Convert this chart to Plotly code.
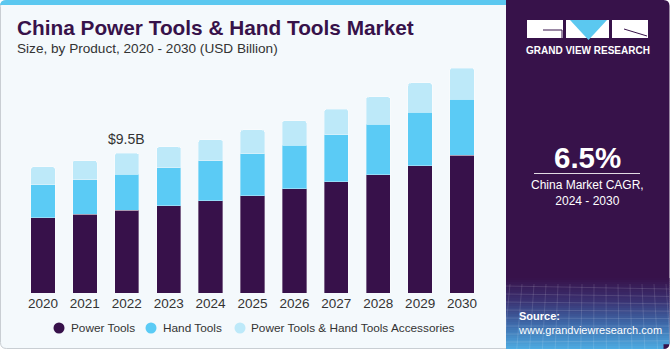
import plotly.graph_objects as go

years = ["2020", "2021", "2022", "2023", "2024", "2025", "2026", "2027", "2028", "2029", "2030"]
power_tools = [5.11, 5.36, 5.63, 5.92, 6.26, 6.62, 7.10, 7.55, 8.05, 8.64, 9.36]
hand_tools = [2.24, 2.35, 2.44, 2.58, 2.71, 2.85, 2.94, 3.21, 3.42, 3.64, 3.82]
accessories = [1.22, 1.29, 1.43, 1.42, 1.45, 1.61, 1.67, 1.72, 1.85, 1.99, 2.10]
series_names = ["Power Tools", "Hand Tools", "Power Tools & Hand Tools Accessories"]
colors = ["#37114A", "#5BCBF5", "#BDE9F9"]
label_year = "2022"
label_text = "$9.5B"

W, H = 670, 350
L, R, T, B = 22, 187, 60, 57
PW = W - L - R
PH = H - T - B
YMAX = 15.83
FONT = "Liberation Sans, Arial"

xpos = list(range(len(years)))


def px(x):
    return (x - L) / PW


def py(y):
    return (H - B - y) / PH


fig = go.Figure()
for name, vals, col in zip(series_names, [power_tools, hand_tools, accessories], colors):
    fig.add_trace(go.Bar(
        x=xpos, y=vals, name=name, marker_color=col,
        marker_line=dict(color="rgba(255,255,255,0.35)", width=1),
        showlegend=False, customdata=years, hovertemplate="%{customdata}: %{y}<extra>" + name + "</extra>",
    ))

shapes = []
annotations = []

# left panel background
r = 6
x0, x1, y0, y1 = 0.5, 508, 0.5, 348.5
path = (f"M {px(x0 + r)},{py(y0)} L {px(x1)},{py(y0)} L {px(x1)},{py(y1)} "
        f"L {px(x0 + r)},{py(y1)} Q {px(x0)},{py(y1)} {px(x0)},{py(y1 - r)} "
        f"L {px(x0)},{py(y0 + r)} Q {px(x0)},{py(y0)} {px(x0 + r)},{py(y0)} Z")
shapes.append(dict(type="path", xref="paper", yref="paper", path=path,
                   fillcolor="#F4F9FC", line=dict(color="#C9CED3", width=1), layer="below"))
# top stripe
path = (f"M {px(r)},{py(0)} L {px(507)},{py(0)} L {px(507)},{py(5)} L {px(0)},{py(5)} "
        f"L {px(0)},{py(r)} Q {px(0)},{py(0)} {px(r)},{py(0)} Z")
shapes.append(dict(type="path", xref="paper", yref="paper", path=path,
                   fillcolor="#5BC8F0", line=dict(width=0), layer="below"))

# right panel
rx0, rx1, ry0, ry1 = 506, 669.5, 0, 349
path = (f"M {px(rx0)},{py(ry0)} L {px(rx1 - r)},{py(ry0)} Q {px(rx1)},{py(ry0)} {px(rx1)},{py(ry0 + r)} "
        f"L {px(rx1)},{py(ry1 - r)} Q {px(rx1)},{py(ry1)} {px(rx1 - r)},{py(ry1)} "
        f"L {px(rx0)},{py(ry1)} Z")
shapes.append(dict(type="path", xref="paper", yref="paper", path=path,
                   fillcolor="#37124A", line=dict(width=0), layer="below"))

# gradient at bottom of right panel
stops = [(278, (55, 18, 74)), (300, (58, 48, 112)), (325, (62, 108, 172)), (349, (78, 172, 226))]


def col_at(y):
    for (ya, ca), (yb, cb) in zip(stops[:-1], stops[1:]):
        if ya <= y <= yb:
            t = (y - ya) / (yb - ya)
            return "rgb(%d,%d,%d)" % tuple(round(a + (b - a) * t) for a, b in zip(ca, cb))
    return "rgb(%d,%d,%d)" % stops[-1][1]


yy = 278
while yy < 349:
    shapes.append(dict(type="rect", xref="paper", yref="paper",
                       x0=px(rx0), x1=px(rx1 - (r if yy > 343 else 0)), y0=py(yy), y1=py(min(yy + 2.2, 349)),
                       fillcolor=col_at(yy + 1), line=dict(width=0), layer="below"))
    yy += 2
# faint mesh lines
for i in range(8):
    yl = 286 + i * 8
    shapes.append(dict(type="line", xref="paper", yref="paper", x0=px(rx0), x1=px(rx1),
                       y0=py(yl), y1=py(yl + 3 - i * 0.6),
                       line=dict(color="rgba(255,255,255,0.13)", width=1), layer="below"))
for i in range(14):
    xl = 510 + i * 12
    shapes.append(dict(type="line", xref="paper", yref="paper", x0=px(xl), x1=px(xl - 6 + i * 0.8),
                       y0=py(284), y1=py(349),
                       line=dict(color="rgba(255,255,255,0.12)", width=1), layer="below"))

# logo
for a, b in [(527, 563), (566, 609), (612, 648)]:
    shapes.append(dict(type="rect", xref="paper", yref="paper", x0=px(a), x1=px(b), y0=py(20), y1=py(38),
                       fillcolor="white", line=dict(width=0)))
shapes.append(dict(type="path", xref="paper", yref="paper",
                   path=f"M {px(570)},{py(20)} L {px(607)},{py(20)} L {px(588.5)},{py(40)} Z",
                   fillcolor="#5BC8F0", line=dict(width=0)))
shapes.append(dict(type="path", xref="paper", yref="paper",
                   path=f"M {px(543)},{py(30)} L {px(562)},{py(30)} L {px(562)},{py(38)}",
                   line=dict(color="#37124A", width=1)))
shapes.append(dict(type="line", xref="paper", yref="paper", x0=px(624), x1=px(647), y0=py(29), y1=py(36),
                   line=dict(color="#37124A", width=1)))
annotations.append(dict(x=px(587.5), y=py(50), xref="paper", yref="paper", text="<b>GRAND VIEW RESEARCH</b>",
                        showarrow=False, font=dict(family=FONT, size=10, color="white"),
                        xanchor="center", yanchor="middle"))

# CAGR
annotations.append(dict(x=px(587), y=py(157), xref="paper", yref="paper", text="<b>6.5%</b>",
                        showarrow=False, font=dict(family=FONT, size=29.5, color="white"),
                        xanchor="center", yanchor="middle"))
shapes.append(dict(type="line", xref="paper", yref="paper", x0=px(534), x1=px(640), y0=py(173.5), y1=py(173.5),
                   line=dict(color="rgba(255,255,255,0.85)", width=1)))
annotations.append(dict(x=px(587), y=py(193), xref="paper", yref="paper",
                        text="China Market CAGR,<br>2024 - 2030",
                        showarrow=False, font=dict(family=FONT, size=12, color="white"),
                        xanchor="center", yanchor="middle", align="center"))
annotations.append(dict(x=px(516), y=py(323), xref="paper", yref="paper",
                        text="<b>Source:</b><br>www.grandviewresearch.com",
                        showarrow=False, font=dict(family=FONT, size=11, color="white"),
                        xanchor="left", yanchor="middle", align="left"))

# title
annotations.append(dict(x=px(15), y=py(27), xref="paper", yref="paper",
                        text="<b>China Power Tools & Hand Tools Market</b>",
                        showarrow=False, font=dict(family=FONT, size=20.8, color="#37124A"),
                        xanchor="left", yanchor="middle"))
annotations.append(dict(x=px(15), y=py(48), xref="paper", yref="paper",
                        text="Size, by Product, 2020 - 2030 (USD Billion)",
                        showarrow=False, font=dict(family=FONT, size=13.6, color="#333333"),
                        xanchor="left", yanchor="middle"))

# value label
idx = years.index(label_year)
tot = power_tools[idx] + hand_tools[idx] + accessories[idx]
annotations.append(dict(x=xpos[idx], y=tot, xref="x", yref="y", text=label_text, showarrow=False,
                        yanchor="bottom", yshift=4,
                        font=dict(family=FONT, size=14, color="#333333")))

# legend (manual)
leg = [(59, 68.5), (151, 160.5), (240, 248.5)]
for (cx, tx), name, col in zip(leg, series_names, colors):
    shapes.append(dict(type="circle", xref="paper", yref="paper", xsizemode="pixel", ysizemode="pixel",
                       xanchor=px(cx), yanchor=py(328), x0=-5.5, x1=5.5, y0=-5.5, y1=5.5,
                       fillcolor=col, line=dict(width=0)))
    annotations.append(dict(x=px(tx), y=py(328), xref="paper", yref="paper", text=name, showarrow=False,
                            xanchor="left", yanchor="middle",
                            font=dict(family=FONT, size=11.8, color="#333333")))

fig.update_layout(
    width=W, height=H, margin=dict(l=L, r=R, t=T, b=B),
    barmode="stack", bargap=0.42, barcornerradius=3,
    paper_bgcolor="white", plot_bgcolor="rgba(0,0,0,0)",
    shapes=shapes, annotations=annotations, showlegend=False,
    xaxis=dict(range=[-0.5, len(years) - 0.5], tickvals=xpos, ticktext=years,
               showgrid=False, showline=False, zeroline=False, ticks="",
               tickfont=dict(family=FONT, size=13.5, color="#333333")),
    yaxis=dict(range=[0, YMAX], visible=False, showgrid=False, zeroline=False),
)
fig.write_html("out.html")
